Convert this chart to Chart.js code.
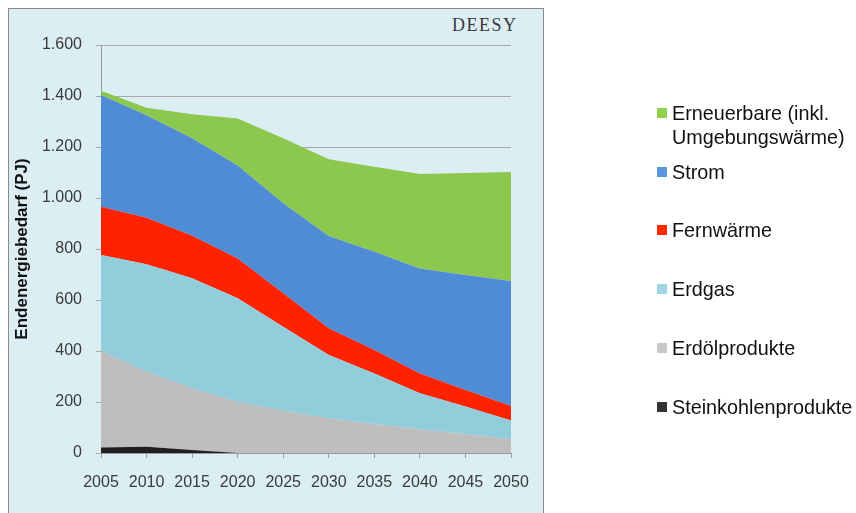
<!DOCTYPE html>
<html>
<head>
<meta charset="utf-8">
<script src="https://cdn.jsdelivr.net/npm/chart.js@4/dist/chart.umd.min.js"></script>
<style>
  html, body { margin: 0; padding: 0; background: #ffffff; overflow: hidden; }
  #wrap { position: relative; width: 856px; height: 513px; }
  #panel { position: absolute; left: 8px; top: 8px; width: 536px; height: 520px; background: #daeef3; border: 1px solid #8a8a8a; box-sizing: border-box; }
  #chart { position: absolute; left: 0; top: 0; }
  #brand { position: absolute; left: 452px; top: 14px; font-family: "Liberation Serif", serif; font-size: 18px; letter-spacing: 1.5px; color: #3a3a3a; line-height: 22px; }
  .leg { position: absolute; left: 657px; font-family: "Liberation Sans", Arial, sans-serif; font-size: 19.8px; line-height: 24px; color: #111; }
  .leg .sw { position: absolute; left: 0; width: 10px; height: 10px; top: 7px; }
  .leg .tx { position: absolute; left: 15px; white-space: nowrap; }
</style>
</head>
<body>
<div id="wrap">
  <div id="panel"></div>
  <div id="brand">DEESY</div>
  <canvas id="chart" width="856" height="513"></canvas>
  <div id="legend"></div>
</div>
<script>
// ---- data (PJ) ----
const years = ["2005","2010","2015","2020","2025","2030","2035","2040","2045","2050"];
const seriesNames = ["Steinkohlenprodukte","Erdölprodukte","Erdgas","Fernwärme","Strom","Erneuerbare (inkl. Umgebungswärme)"];
const steinkohle  = [22, 25, 12, 0, 0, 0, 0, 0, 0, 0];
const erdoel      = [379, 294, 242, 201, 166, 136, 114, 93, 75, 54];
const erdgas      = [375, 421, 431, 406, 329, 248, 198, 141, 107, 73];
const fernwaerme  = [190, 183, 167, 156, 131, 105, 92, 78, 65, 57];
const strom       = [438, 402, 382, 364, 353, 362, 385, 412, 451, 491];
const erneuerbare = [17, 29, 94, 185, 255, 301, 334, 370, 400, 427];
const yTicks = [0, 200, 400, 600, 800, 1000, 1200, 1400, 1600];
const colors = ["#1f1f1f", "#bebebe", "#92cddc", "#ff2200", "#508cd5", "#8dc84e"];
const legendSwatches = ["#333333", "#c8c8c8", "#a3d6e4", "#ff2a00", "#5b97dd", "#92d050"];

const values = [steinkohle, erdoel, erdgas, fernwaerme, strom, erneuerbare];

function fmtDE(v) {
  return String(v).replace(/\B(?=(\d{3})+(?!\d))/g, ".");
}

const datasets = values.map((arr, i) => ({
  label: seriesNames[i],
  data: arr,
  backgroundColor: colors[i],
  borderColor: colors[i],
  borderWidth: 0,
  pointRadius: 0,
  pointHoverRadius: 0,
  tension: 0,
  fill: i === 0 ? "origin" : "-1"
}));

const tickFont = { family: "'Liberation Sans', Arial, sans-serif", size: 16 };

new Chart(document.getElementById("chart"), {
  type: "line",
  data: { labels: years, datasets },
  options: {
    responsive: false,
    animation: false,
    events: [],
    layout: { padding: { left: 0, right: 345, top: 45, bottom: 0 } },
    plugins: { legend: { display: false }, tooltip: { enabled: false }, title: { display: false } },
    scales: {
      x: {
        type: "category",
        offset: false,
        grid: { display: true, drawOnChartArea: false, drawTicks: true, tickLength: 5, color: "#9a9a9a" },
        border: { display: true, color: "#9a9a9a", width: 1 },
        ticks: { color: "#3a3a3a", font: tickFont, padding: 15, maxRotation: 0, autoSkip: false },
        afterFit: (s) => { s.height = 60; }
      },
      y: {
        stacked: true,
        min: 0,
        max: 1600,
        afterBuildTicks: (s) => { s.ticks = yTicks.map(v => ({ value: v })); },
        grid: { display: true, drawOnChartArea: true, drawTicks: true, tickLength: 5, color: "#a8a8a8", lineWidth: 1 },
        border: { display: true, color: "#9a9a9a", width: 1 },
        ticks: { color: "#3a3a3a", font: tickFont, padding: 14, callback: (v) => fmtDE(v) },
        title: {
          display: true,
          text: "Endenergiebedarf (PJ)",
          color: "#111",
          font: { family: "'Liberation Sans', Arial, sans-serif", size: 17, weight: "bold" },
          padding: { top: 12.5, bottom: 0 }
        },
        afterFit: (s) => { s.width = 101; }
      }
    }
  }
});

// ---- legend (HTML text) ----
const legendOrder = [5, 4, 3, 2, 1, 0];
const legendCenters = [113, 172, 230, 289, 348, 407];
const legendLines = {5: ["Erneuerbare (inkl.", "Umgebungswärme)"]};
const legEl = document.getElementById("legend");
legendOrder.forEach((idx, k) => {
  const item = document.createElement("div");
  item.className = "leg";
  item.style.top = (legendCenters[k] - 12) + "px";
  const sw = document.createElement("div");
  sw.className = "sw";
  sw.style.background = legendSwatches[idx];
  const tx = document.createElement("div");
  tx.className = "tx";
  const lines = legendLines[idx] || [seriesNames[idx]];
  tx.innerHTML = lines.map(l => l.replace(/&/g, "&amp;")).join("<br>");
  item.appendChild(sw);
  item.appendChild(tx);
  legEl.appendChild(item);
});
</script>
</body>
</html>
